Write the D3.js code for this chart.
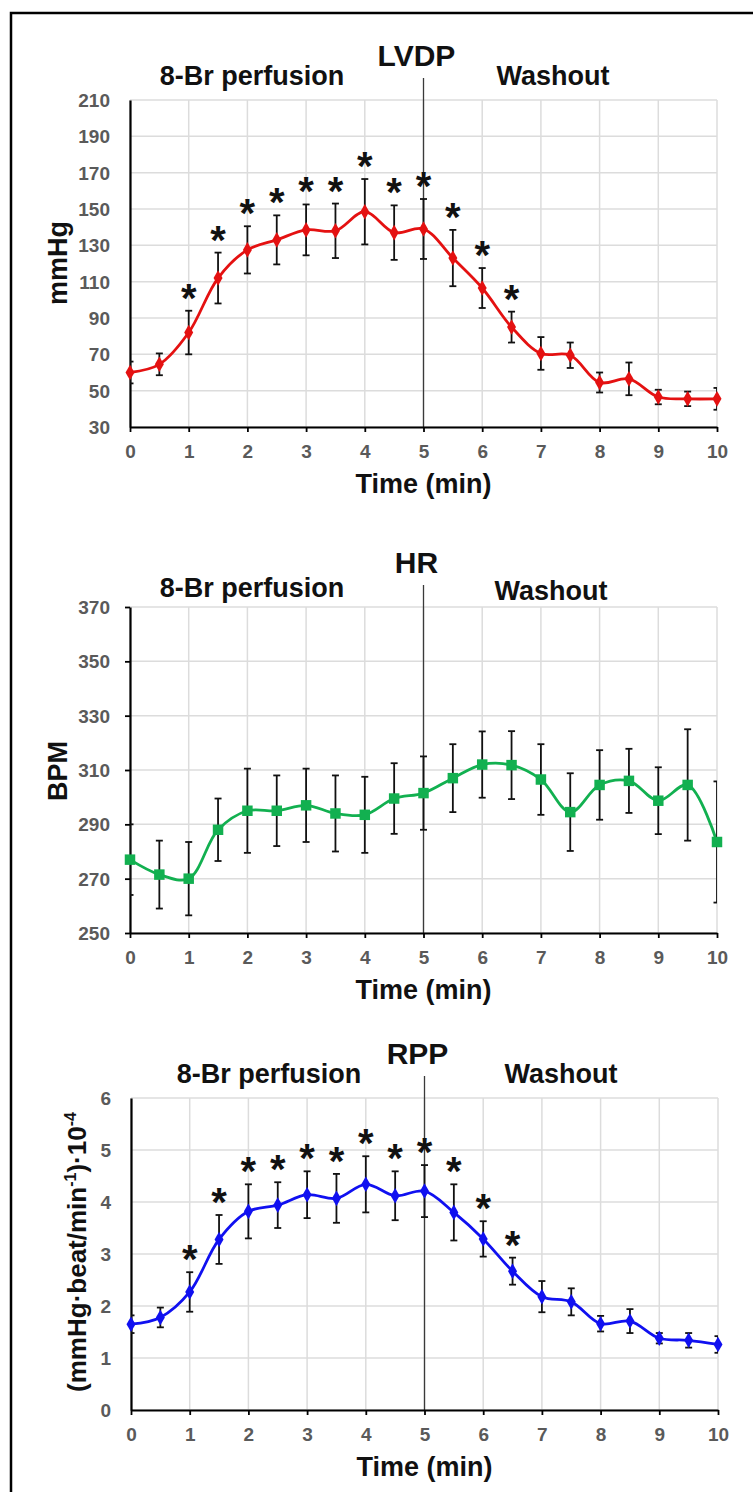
<!DOCTYPE html>
<html>
<head>
<meta charset="utf-8">
<script src="https://cdn.jsdelivr.net/npm/d3@7"></script>
<style>
  html, body { margin: 0; padding: 0; background: #fff; }
  svg { display: block; font-family: "Liberation Sans", Arial, sans-serif; }
</style>
</head>
<body>
<svg id="chart" width="753" height="1492"></svg>
<script>
// time points (min)
const times = [0, 0.5, 1, 1.5, 2, 2.5, 3, 3.5, 4, 4.5, 5, 5.5, 6, 6.5, 7, 7.5, 8, 8.5, 9, 9.5, 10];
const xTicks = [0, 1, 2, 3, 4, 5, 6, 7, 8, 9, 10];

// LVDP (mmHg)
const lvdpMean = [60, 64.5, 82, 112, 127.5, 133, 138.5, 138, 148.5, 137, 139, 123, 106.5, 85, 70.5, 69.5, 54.5, 56.5, 46.5, 45.5, 45.5];
const lvdpErr  = [6, 6, 12, 14, 13, 13.5, 14, 15, 18, 15, 16.5, 15.5, 11, 8.5, 9, 7, 5.5, 9, 4, 4, 6];
const lvdpSig  = [1, 1.5, 2, 2.5, 3, 3.5, 4, 4.5, 5, 5.5, 6, 6.5];
const lvdpTicks = [30, 50, 70, 90, 110, 130, 150, 170, 190, 210];

// HR (BPM)
const hrMean = [277, 271.5, 270, 288, 295, 295, 297, 294, 293.5, 299.5, 301.5, 307, 312, 311.8, 306.5, 294.5, 304.5, 306, 298.7, 304.5, 283.5];
const hrErr  = [13, 12.5, 13.5, 11.5, 15.5, 13, 13.5, 14, 14, 13, 13.5, 12.5, 12.2, 12.5, 13, 14.3, 12.8, 11.8, 12.3, 20.5, 22.3];
const hrSig  = [];
const hrTicks = [250, 270, 290, 310, 330, 350, 370];

// RPP (mmHg·beat/min ·10^-4)
const rppMean = [1.65, 1.78, 2.27, 3.28, 3.82, 3.94, 4.14, 4.07, 4.34, 4.12, 4.21, 3.8, 3.29, 2.67, 2.18, 2.08, 1.66, 1.71, 1.38, 1.34, 1.26];
const rppErr  = [0.17, 0.19, 0.38, 0.47, 0.52, 0.44, 0.45, 0.47, 0.54, 0.47, 0.5, 0.54, 0.34, 0.26, 0.3, 0.26, 0.15, 0.23, 0.1, 0.14, 0.16];
const rppSig  = [1, 1.5, 2, 2.5, 3, 3.5, 4, 4.5, 5, 5.5, 6, 6.5];
const rppTicks = [0, 1, 2, 3, 4, 5, 6];

const svg = d3.select('#chart');

// outer frame (left and top edges only are in view)
svg.append('path')
  .attr('d', 'M11,1492 V13 H753')
  .attr('fill', 'none')
  .attr('stroke', '#000')
  .attr('stroke-width', 2.5);

const panels = [
  {
    id: 'lvdp', title: 'LVDP', yLabel: 'mmHg', mean: lvdpMean, err: lvdpErr, sig: lvdpSig,
    ticks: lvdpTicks, color: '#e41111', marker: 'diamond',
    left: 130, right: 717, top: 100, bottom: 427,
    perfX: 252, perfY: 85, washX: 553, washY: 85, yLabX: 67, yLabY: 263, yTick: 0
  },
  {
    id: 'hr', title: 'HR', yLabel: 'BPM', mean: hrMean, err: hrErr, sig: hrSig,
    ticks: hrTicks, color: '#12b050', marker: 'square',
    left: 130, right: 717, top: 607, bottom: 933,
    perfX: 252, perfY: 597, washX: 551, washY: 600, yLabX: 67, yLabY: 771, yTick: 5
  },
  {
    id: 'rpp', title: 'RPP', yLabel: null, mean: rppMean, err: rppErr, sig: rppSig,
    ticks: rppTicks, color: '#1010f0', marker: 'diamond',
    left: 131, right: 718, top: 1098, bottom: 1410,
    perfX: 269, perfY: 1083, washX: 561, washY: 1083, yLabX: 86, yLabY: 1252, yTick: 0
  }
];

panels.forEach(p => drawPanel(p));

function drawPanel(p) {
  const x = d3.scaleLinear().domain([0, 10]).range([p.left, p.right]);
  const y = d3.scaleLinear().domain([p.ticks[0], p.ticks[p.ticks.length - 1]]).range([p.bottom, p.top]);
  const g = svg.append('g').attr('class', 'panel-' + p.id);

  // gridlines
  g.append('g').selectAll('line.hgrid')
    .data(p.ticks).enter().append('line')
    .attr('x1', p.left).attr('x2', p.right)
    .attr('y1', d => y(d)).attr('y2', d => y(d))
    .attr('stroke', '#dcdcdc').attr('stroke-width', 1.5);
  g.append('g').selectAll('line.vgrid')
    .data(xTicks).enter().append('line')
    .attr('x1', d => x(d)).attr('x2', d => x(d))
    .attr('y1', p.top).attr('y2', p.bottom)
    .attr('stroke', '#dcdcdc').attr('stroke-width', 1.5);

  // divider at 5 min
  g.append('line')
    .attr('x1', x(5)).attr('x2', x(5))
    .attr('y1', p.top - 22).attr('y2', p.bottom)
    .attr('stroke', '#3a3a3a').attr('stroke-width', 1.3);

  // axes
  const xAxis = d3.axisBottom(x).tickValues(xTicks).tickSize(5).tickPadding(8).tickSizeOuter(0)
    .tickFormat(d3.format('d'));
  const yAxis = d3.axisLeft(y).tickValues(p.ticks).tickSize(p.yTick).tickPadding(20 - p.yTick).tickSizeOuter(0)
    .tickFormat(d3.format('d'));

  const gx = g.append('g').attr('transform', `translate(0,${p.bottom})`).call(xAxis);
  const gy = g.append('g').attr('transform', `translate(${p.left},0)`).call(yAxis);
  [gx, gy].forEach(a => {
    a.select('.domain').attr('stroke', '#000').attr('stroke-width', 2.2);
    a.selectAll('.tick line').attr('stroke', '#000').attr('stroke-width', 1.8);
    a.selectAll('.tick text')
      .attr('fill', '#5a5a5a')
      .style('font-size', '19px')
      .style('font-weight', 'bold')
      .style('font-family', '"Liberation Sans", Arial, sans-serif');
  });
  gx.selectAll('.tick text').attr('dy', null).attr('y', 31).attr('dominant-baseline', 'auto');
  gy.selectAll('.tick text').attr('dy', '0.35em');

  // error bars, clipped to plot area
  const clipId = 'clip-' + p.id;
  svg.append('clipPath').attr('id', clipId)
    .append('rect')
    .attr('x', p.left).attr('y', p.top - 40)
    .attr('width', p.right - p.left).attr('height', p.bottom - p.top + 40);

  const pts = times.map((t, i) => ({ t, v: p.mean[i], e: p.err[i] }));

  const line = d3.line()
    .x(d => x(d.t))
    .y(d => y(d.v))
    .curve(d3.curveCatmullRom.alpha(0.5));

  g.append('path')
    .datum(pts)
    .attr('fill', 'none')
    .attr('stroke', p.color)
    .attr('stroke-width', 2.8)
    .attr('d', line);

  const eb = g.append('g').attr('clip-path', `url(#${clipId})`)
    .selectAll('g').data(pts).enter().append('g');
  eb.append('line')
    .attr('x1', d => x(d.t)).attr('x2', d => x(d.t))
    .attr('y1', d => y(d.v - d.e)).attr('y2', d => y(d.v + d.e))
    .attr('stroke', '#111').attr('stroke-width', 1.8);
  [1, -1].forEach(s => {
    eb.append('line')
      .attr('x1', d => x(d.t) - 3.5).attr('x2', d => x(d.t) + 3.5)
      .attr('y1', d => y(d.v + s * d.e)).attr('y2', d => y(d.v + s * d.e))
      .attr('stroke', '#111').attr('stroke-width', 1.8);
  });

  // markers
  const sym = p.marker === 'square'
    ? d3.symbol().type(d3.symbolSquare).size(110)
    : d3.symbol().type(d3.symbolDiamond).size(70);
  g.append('g').selectAll('path')
    .data(pts).enter().append('path')
    .attr('transform', d => `translate(${x(d.t)},${y(d.v)})`)
    .attr('d', sym)
    .attr('fill', p.color);

  // significance asterisks
  g.append('g').selectAll('text')
    .data(pts.filter(d => p.sig.includes(d.t))).enter().append('text')
    .attr('x', d => x(d.t))
    .attr('y', d => y(d.v + d.e) + 1)
    .attr('text-anchor', 'middle')
    .style('font-size', '40px')
    .style('font-weight', 'bold')
    .attr('fill', '#111')
    .text('*');

  // phase labels and title
  const label = (tx, ty, txt, size) => g.append('text')
    .attr('x', tx).attr('y', ty)
    .attr('text-anchor', 'middle')
    .style('font-size', size + 'px')
    .style('font-weight', 'bold')
    .attr('fill', '#111')
    .text(txt);
  label(p.perfX, p.perfY, '8-Br perfusion', 27);
  label(p.washX, p.washY, 'Washout', 27);
  label(x(5) - 7, p.top - 34, p.title, 30);
  label((p.left + p.right) / 2, p.bottom + 66, 'Time (min)', 27);

  // y axis title
  const yt = g.append('text')
    .attr('transform', `translate(${p.yLabX},${p.yLabY}) rotate(-90)`)
    .attr('text-anchor', 'middle')
    .style('font-weight', 'bold')
    .attr('fill', '#111');
  if (p.yLabel) {
    yt.style('font-size', '27px').text(p.yLabel);
  } else {
    yt.style('font-size', '26px');
    yt.append('tspan').text('(mmHg·beat/min');
    yt.append('tspan').attr('dy', -10).style('font-size', '16px').text('-1');
    yt.append('tspan').attr('dy', 10).text(')·10');
    yt.append('tspan').attr('dy', -10).style('font-size', '16px').text('-4');
  }
}
</script>
</body>
</html>
